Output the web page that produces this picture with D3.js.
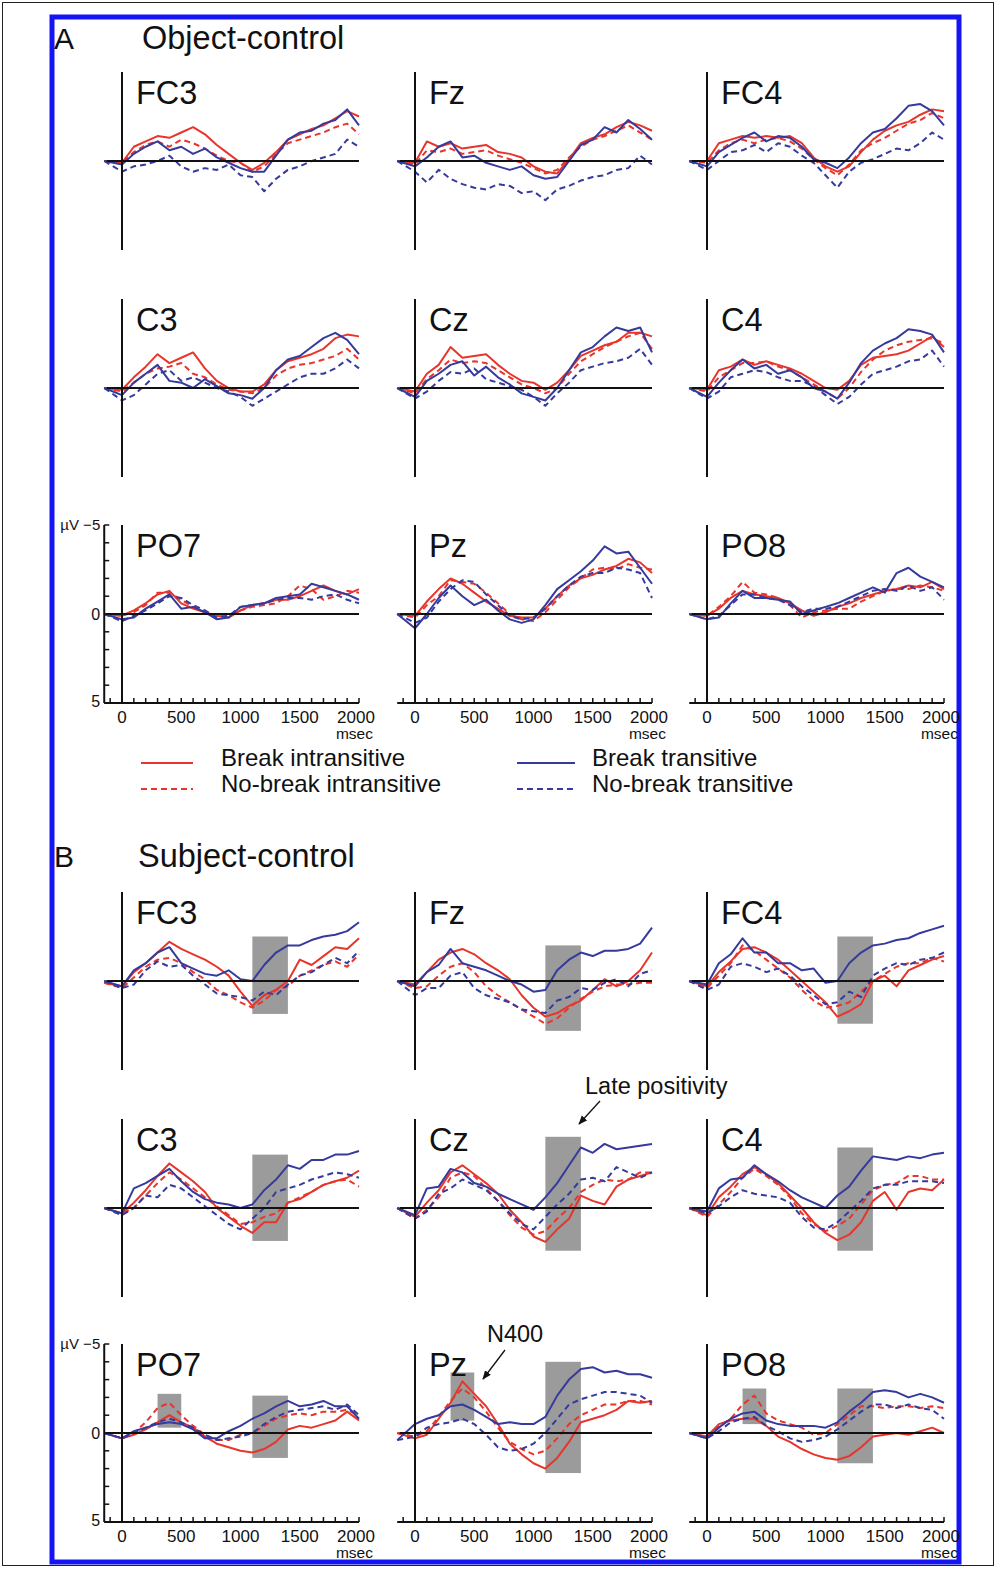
<!DOCTYPE html>
<html>
<head>
<meta charset="utf-8">
<script src="https://cdn.jsdelivr.net/npm/d3@7"></script>
<style>
  body { margin: 0; background: #fff; }
  text { font-family: "Liberation Sans", Arial, sans-serif; fill: #111; }
</style>
</head>
<body>
<script>
var width = 997,
    height = 1569;

// sample times (msec) for every trace
var times = [-150, 0, 100, 200, 300, 400, 500, 600, 700, 800, 900, 1000,
             1100, 1200, 1300, 1400, 1500, 1600, 1700, 1800, 1900, 2000];
var xTicks = [0, 500, 1000, 1500, 2000];
var conditions = ["Break intransitive", "No-break intransitive", "Break transitive", "No-break transitive"];
var channels = [["FC3", "Fz", "FC4"], ["C3", "Cz", "C4"], ["PO7", "Pz", "PO8"]];

// µV, negative plotted up; order = conditions
var objFC3 = [
  [0, 0.1, -0.8, -1.1, -1.4, -1.3, -1.6, -1.9, -1.5, -0.9, -0.4, 0.1, 0.5, 0.1, -0.5, -1.2, -1.5, -1.8, -2.0, -2.4, -2.8, -2.5],
  [0, 0.1, -0.5, -0.9, -1.1, -0.8, -1.2, -1.0, -0.7, -0.3, 0.0, 0.1, 0.6, 0.3, -0.4, -1.0, -1.2, -1.4, -1.6, -1.9, -2.1, -1.5],
  [0, 0.2, -0.4, -0.8, -1.1, -0.6, -0.8, -0.4, -0.7, -0.2, 0.1, 0.4, 0.6, 0.6, -0.3, -1.2, -1.6, -1.7, -2.1, -2.3, -2.9, -2.0],
  [0, 0.6, 0.3, 0.2, 0.0, -0.3, 0.3, 0.6, 0.4, 0.5, 0.2, 0.8, 0.9, 1.7, 1.0, 0.5, 0.3, 0.0, -0.2, -0.4, -1.2, -0.8]
];
var objFz = [
  [0, 0.1, -1.1, -0.8, -1.0, -0.7, -0.8, -0.9, -0.5, -0.4, -0.2, 0.3, 0.6, 0.7, -0.1, -1.0, -1.3, -1.5, -1.9, -2.2, -2.0, -1.7],
  [0, 0.2, -0.6, -0.5, -0.7, -0.4, -0.5, -0.6, -0.3, -0.1, 0.1, 0.4, 0.7, 0.5, -0.2, -0.8, -1.2, -1.4, -1.7, -2.0, -1.6, -1.2],
  [0, 0.3, -0.2, -0.8, -1.1, -0.2, -0.3, 0.1, 0.3, 0.5, 0.3, 0.8, 1.0, 0.9, 0.0, -0.9, -1.2, -1.9, -1.6, -2.3, -1.8, -1.2],
  [0, 0.6, 1.2, 0.5, 1.0, 1.3, 1.5, 1.6, 1.3, 1.4, 1.8, 1.7, 2.2, 1.6, 1.4, 1.1, 0.9, 0.8, 0.5, 0.4, -0.3, 0.2]
];
var objFC4 = [
  [0, 0.0, -1.0, -1.2, -1.4, -1.3, -1.4, -1.3, -1.4, -1.0, -0.2, 0.3, 0.6, 0.3, -0.5, -1.2, -1.7, -2.0, -2.2, -2.6, -2.9, -2.8],
  [0, 0.1, -0.6, -1.0, -1.2, -1.0, -1.2, -1.3, -1.1, -0.7, -0.1, 0.4, 0.8, 0.2, -0.6, -1.0, -1.3, -1.7, -2.1, -2.3, -2.7, -2.4],
  [0, 0.3, -0.5, -0.9, -1.3, -1.6, -1.1, -1.4, -1.3, -0.8, -0.1, 0.1, 0.4, -0.2, -1.0, -1.6, -1.8, -2.4, -3.1, -3.2, -2.8, -2.0],
  [0, 0.5, 0.0, -0.5, -0.6, -0.9, -0.5, -1.0, -0.8, -0.3, 0.1, 0.8, 1.5, 0.6, 0.1, -0.1, -0.4, -0.7, -0.6, -1.0, -1.6, -1.2]
];
var objC3 = [
  [0, 0.1, -0.6, -1.2, -1.9, -1.4, -1.7, -2.0, -1.1, -0.4, 0.0, 0.2, 0.2, -0.2, -1.0, -1.5, -1.7, -1.9, -2.2, -2.8, -3.0, -2.9],
  [0, 0.2, -0.3, -0.8, -1.1, -1.2, -1.4, -0.8, -0.6, -0.2, 0.1, 0.2, 0.3, 0.0, -0.7, -1.1, -1.3, -1.4, -1.6, -1.8, -2.2, -1.6],
  [0, 0.4, -0.3, -0.8, -1.3, -0.4, -0.3, 0.0, -0.5, -0.1, 0.3, 0.4, 0.6, 0.0, -1.0, -1.6, -1.8, -2.3, -2.8, -3.1, -2.7, -1.9],
  [0, 0.7, 0.4, -0.2, -0.8, -1.0, -0.4, -0.6, -0.3, 0.0, 0.2, 0.5, 1.0, 0.6, 0.2, -0.2, -0.6, -0.8, -0.8, -1.1, -1.6, -1.1]
];
var objCz = [
  [0, 0.2, -0.8, -1.3, -2.3, -1.7, -1.8, -1.9, -1.3, -0.8, -0.4, -0.3, 0.1, -0.3, -1.0, -1.8, -2.1, -2.4, -2.6, -3.1, -3.1, -2.9],
  [0, 0.3, -0.5, -1.0, -1.6, -1.4, -1.5, -1.4, -1.0, -0.6, -0.2, 0.0, 0.3, 0.0, -0.8, -1.5, -1.9, -2.3, -2.6, -2.9, -3.1, -2.2],
  [0, 0.5, -0.4, -0.8, -1.3, -1.5, -0.7, -1.2, -0.6, -0.2, 0.3, 0.5, 0.7, 0.0, -1.0, -2.0, -2.3, -2.9, -3.4, -3.2, -3.4, -2.0],
  [0, 0.6, 0.2, -0.4, -0.9, -0.8, -1.1, -0.5, -0.3, -0.1, 0.1, 0.5, 1.0, 0.3, -0.3, -1.0, -1.2, -1.4, -1.5, -1.7, -2.2, -1.3]
];
var objC4 = [
  [0, 0.1, -1.0, -1.2, -1.6, -1.3, -1.5, -1.3, -1.1, -0.8, -0.4, 0.0, 0.1, -0.4, -1.3, -1.7, -1.8, -1.9, -2.1, -2.5, -2.9, -2.3],
  [0, 0.2, -0.6, -1.0, -1.4, -1.4, -1.5, -1.2, -1.0, -0.6, -0.2, 0.2, 0.6, 0.0, -0.9, -1.6, -2.1, -2.4, -2.6, -2.7, -2.8, -2.5],
  [0, 0.5, -0.3, -1.0, -1.6, -1.1, -1.3, -0.8, -1.0, -0.6, 0.0, 0.2, 0.6, -0.3, -1.4, -2.1, -2.5, -2.8, -3.3, -3.2, -3.0, -2.0],
  [0, 0.6, 0.2, -0.6, -0.8, -1.0, -0.9, -0.6, -0.4, -0.4, -0.1, 0.4, 0.9, 0.5, -0.2, -0.8, -1.0, -1.2, -1.5, -1.6, -2.1, -1.2]
];
var objPO7 = [
  [0, 0.1, -0.2, -0.6, -1.1, -1.3, -0.6, -0.3, -0.1, 0.1, 0.2, -0.2, -0.5, -0.6, -0.8, -0.8, -1.0, -1.3, -1.6, -1.3, -1.1, -1.4],
  [0, 0.1, -0.1, -0.5, -1.2, -1.2, -0.8, -0.4, -0.1, 0.1, 0.1, -0.2, -0.4, -0.5, -0.6, -1.0, -1.6, -1.4, -0.8, -1.0, -1.3, -1.2],
  [0, 0.3, 0.2, -0.3, -0.7, -1.1, -0.3, -0.4, -0.1, 0.3, 0.2, -0.4, -0.5, -0.6, -0.9, -1.0, -1.1, -1.7, -1.5, -1.3, -1.1, -0.8],
  [0, 0.4, 0.1, -0.2, -0.6, -1.0, -0.9, -0.5, -0.2, 0.2, 0.1, -0.4, -0.5, -0.6, -0.8, -0.9, -0.9, -0.8, -1.0, -1.1, -0.8, -0.6]
];
var objPz = [
  [0, 0.1, -0.7, -1.4, -2.0, -1.7, -1.2, -0.7, -0.3, 0.1, 0.2, 0.2, -0.3, -1.0, -1.6, -2.0, -2.2, -2.5, -2.7, -3.1, -2.9, -2.3],
  [0, 0.2, -0.5, -1.0, -1.9, -1.8, -1.7, -1.2, -0.6, 0.0, 0.3, 0.4, -0.1, -0.8, -1.5, -2.0, -2.5, -2.6, -2.5, -2.8, -2.6, -2.5],
  [0, 0.8, 0.0, -0.9, -1.6, -1.0, -0.5, -0.8, -0.2, 0.3, 0.5, 0.3, -0.5, -1.4, -1.9, -2.4, -3.0, -3.8, -3.4, -3.5, -2.6, -1.7],
  [0, 0.5, 0.2, -0.7, -1.4, -1.9, -1.8, -1.1, -0.5, 0.1, 0.3, 0.2, -0.3, -1.0, -1.6, -2.1, -2.3, -2.3, -2.6, -2.5, -2.3, -0.9]
];
var objPO8 = [
  [0, 0.1, -0.3, -0.9, -1.3, -1.1, -1.0, -0.9, -0.6, -0.2, 0.1, -0.1, -0.4, -0.6, -0.9, -1.1, -1.3, -1.4, -1.6, -1.5, -1.8, -1.4],
  [0, 0.1, -0.4, -1.0, -1.8, -1.2, -1.1, -0.9, -0.5, 0.2, -0.1, -0.2, -0.3, -0.3, -0.7, -1.0, -1.3, -1.4, -1.4, -1.6, -1.5, -1.3],
  [0, 0.3, 0.2, -0.6, -1.3, -0.9, -0.9, -0.8, -0.7, 0.0, -0.2, -0.4, -0.6, -0.9, -1.2, -1.5, -1.2, -2.3, -2.6, -2.1, -1.8, -1.5],
  [0, 0.3, 0.1, -0.5, -1.1, -1.1, -0.9, -0.8, -0.5, -0.1, -0.3, -0.3, -0.4, -0.7, -1.0, -1.3, -1.4, -1.3, -1.6, -1.3, -1.5, -0.8]
];

var subjFC3 = [
  [0.1, 0.3, -0.5, -1.0, -1.6, -2.2, -1.8, -1.5, -1.2, -0.8, -0.3, 0.6, 1.4, 0.8, 0.5, 0.0, -1.2, -0.9, -1.4, -1.9, -1.8, -2.4],
  [0.1, 0.4, -0.2, -0.8, -1.2, -1.3, -1.0, -0.5, -0.1, 0.5, 0.8, 1.2, 1.5, 1.1, 0.5, 0.3, -0.3, -0.6, -0.9, -1.1, -0.8, -1.5],
  [0, 0.3, -0.6, -1.0, -1.6, -1.9, -1.0, -0.7, -0.4, -0.3, -0.6, -0.1, 0.0, -0.9, -1.6, -2.0, -2.0, -2.3, -2.5, -2.6, -2.8, -3.3],
  [0, 0.4, 0.2, -0.6, -1.1, -0.8, -0.9, -0.3, 0.2, 0.7, 0.8, 0.9, 1.1, 0.6, 0.8, 0.2, -0.3, -0.5, -0.9, -1.3, -1.0, -1.7]
];
var subjFz = [
  [0, 0.2, -0.5, -1.2, -1.6, -1.8, -1.5, -1.0, -0.6, -0.1, 0.8, 1.5, 2.0, 1.8, 1.4, 1.1, 0.5, -0.1, 0.3, 0.0, -0.6, -1.6],
  [0, 0.4, 0.3, -0.3, -0.8, -1.0, -0.5, 0.3, 0.8, 1.2, 1.6, 2.0, 2.4, 2.1, 1.5, 1.0, 0.6, 0.3, 0.2, 0.2, 0.1, 0.1],
  [0, 0.3, -0.5, -0.9, -1.8, -1.0, -0.8, -0.6, -0.3, 0.0, 0.2, 0.6, 0.5, -0.6, -1.2, -1.6, -1.4, -1.7, -1.7, -1.8, -2.1, -3.0],
  [0, 0.8, 0.4, 0.4, -0.3, -0.5, 0.4, 0.8, 1.0, 1.2, 1.6, 1.7, 1.8, 1.1, 0.9, 0.4, 0.5, 0.1, -0.1, 0.3, -0.4, -0.6]
];
var subjFC4 = [
  [0, 0.3, -0.5, -1.1, -1.8, -1.9, -1.6, -1.2, -0.6, 0.0, 0.6, 1.2, 2.0, 1.7, 1.3, 0.0, -0.3, 0.3, -0.6, -0.9, -1.2, -1.4],
  [0, 0.4, -0.3, -1.0, -2.0, -1.7, -1.2, -0.7, -0.2, 0.5, 1.1, 1.5, 1.4, 1.2, 0.6, 0.0, -0.4, -0.8, -1.0, -1.0, -1.3, -1.1],
  [0, 0.2, -1.0, -1.5, -2.4, -1.6, -1.6, -1.0, -1.0, -0.6, -0.7, 0.1, 0.0, -1.0, -1.6, -2.0, -2.1, -2.3, -2.4, -2.7, -2.9, -3.1],
  [0, 0.5, 0.2, -0.8, -1.0, -0.8, -0.5, -0.7, -0.3, 0.3, 0.8, 1.3, 1.2, 0.6, 0.9, -0.3, -0.7, -1.0, -0.9, -1.2, -1.3, -1.6]
];
var subjC3 = [
  [0, 0.3, -0.3, -1.0, -1.8, -2.5, -2.0, -1.5, -0.9, 0.0, 0.5, 1.0, 1.4, 0.8, 0.8, -0.3, -0.5, -0.9, -1.3, -1.5, -1.7, -2.1],
  [0, 0.3, 0.0, -0.7, -1.4, -2.0, -1.6, -1.1, -0.6, -0.1, 0.4, 0.9, 0.8, 0.5, 0.3, -0.3, -0.6, -0.9, -1.3, -1.5, -1.6, -1.2],
  [0, 0.3, -1.1, -1.4, -1.8, -2.2, -1.5, -0.9, -0.5, -0.3, -0.2, 0.0, -0.2, -1.0, -1.6, -2.4, -2.2, -2.7, -2.7, -3.0, -3.0, -3.2],
  [0, 0.4, 0.0, -0.7, -0.6, -1.3, -1.1, -0.6, -0.1, 0.4, 0.9, 1.2, 0.6, 0.0, -0.9, -1.1, -1.3, -1.6, -1.8, -2.0, -1.9, -1.7]
];
var subjCz = [
  [0, 0.5, -0.3, -1.0, -2.0, -2.4, -1.9, -1.4, -0.8, 0.1, 0.8, 1.6, 1.9, 1.2, 0.6, -0.7, -0.4, -0.2, -1.2, -1.6, -1.8, -2.0],
  [0, 0.6, 0.1, -0.6, -1.7, -2.0, -1.8, -1.1, -0.4, 0.4, 1.1, 1.5, 1.3, 0.6, 0.0, -0.9, -1.3, -1.6, -1.5, -1.6, -2.0, -2.0],
  [0, 0.4, -1.1, -1.2, -2.2, -2.0, -1.4, -1.2, -0.8, -0.5, -0.2, 0.1, -0.6, -1.4, -2.4, -3.4, -3.1, -3.6, -3.3, -3.4, -3.5, -3.6],
  [0, 0.6, 0.2, -0.8, -1.1, -1.6, -1.3, -1.0, -0.4, 0.3, 0.9, 1.2, 0.5, -0.2, -0.8, -1.6, -1.7, -1.5, -2.3, -2.0, -1.7, -2.0]
];
var subjC4 = [
  [0, 0.4, -0.6, -1.2, -1.9, -2.3, -1.9, -1.4, -0.7, 0.0, 0.8, 1.4, 1.8, 1.5, 0.8, -0.4, -0.9, 0.1, -0.9, -1.1, -1.0, -1.6],
  [0, 0.5, -0.2, -0.9, -1.7, -2.2, -1.8, -1.3, -0.6, 0.3, 0.9, 1.3, 1.0, 0.6, -0.2, -1.0, -1.3, -1.4, -1.8, -1.8, -1.6, -1.6],
  [0, 0.2, -1.1, -1.6, -1.7, -2.4, -1.9, -1.5, -1.0, -0.6, -0.3, 0.0, -0.7, -1.2, -2.1, -2.9, -2.8, -2.7, -2.9, -2.8, -3.0, -3.1],
  [0, 0.3, -0.1, -0.6, -1.0, -0.8, -0.7, -0.6, -0.3, 0.5, 1.1, 1.2, 0.8, 0.2, -0.4, -1.1, -1.3, -1.3, -1.5, -1.5, -1.5, -1.4]
];
var subjPO7 = [
  [0, 0.3, 0.1, -0.2, -0.6, -1.0, -0.6, -0.3, 0.2, 0.6, 0.8, 1.0, 1.1, 0.9, 0.5, -0.2, -0.4, -0.3, -0.5, -0.7, -1.2, -0.7],
  [0, 0.3, 0.0, -0.6, -1.4, -1.7, -1.0, -0.4, 0.1, 0.4, 0.4, 0.1, 0.0, -0.4, -0.8, -1.0, -1.1, -1.0, -1.2, -1.2, -1.3, -1.0],
  [0, 0.3, -0.1, -0.3, -0.5, -0.6, -0.5, -0.2, 0.3, 0.3, -0.1, -0.4, -0.8, -1.1, -1.5, -1.8, -1.5, -1.6, -1.8, -1.5, -1.5, -0.8],
  [0, 0.3, 0.0, -0.3, -0.6, -0.8, -0.6, -0.3, 0.1, 0.4, 0.3, 0.2, 0.0, -0.5, -0.9, -1.2, -1.3, -1.4, -1.5, -1.3, -1.6, -1.0]
];
var subjPz = [
  [0, 0.3, 0.1, -0.8, -1.7, -2.9, -2.2, -1.5, -0.5, 0.6, 1.2, 1.7, 2.0, 1.4, 0.5, -0.6, -0.8, -1.0, -1.3, -1.8, -1.7, -1.8],
  [0, 0.2, -0.1, -0.9, -1.8, -2.5, -2.0, -1.2, -0.3, 0.5, 0.9, 1.2, 1.0, 0.3, -0.5, -1.0, -1.3, -1.6, -1.6, -1.8, -1.8, -1.6],
  [0.4, -0.5, -0.8, -1.0, -1.5, -1.6, -1.3, -0.9, -0.5, -0.6, -0.5, -0.5, -0.9, -2.1, -3.0, -3.6, -3.7, -3.4, -3.5, -3.3, -3.3, -3.1],
  [0.4, 0.2, -0.3, -0.5, -0.6, -0.8, -0.5, 0.1, 0.8, 1.0, 0.9, 0.6, 0.0, -0.8, -1.6, -1.9, -2.1, -2.3, -2.3, -2.2, -2.1, -1.7]
];
var subjPO8 = [
  [0, 0.2, -0.5, -0.7, -0.8, -0.8, -0.4, 0.2, 0.5, 0.9, 1.2, 1.4, 1.5, 1.3, 0.8, 0.2, 0.1, 0.0, 0.1, -0.1, -0.3, 0.0],
  [0, 0.3, -0.4, -0.8, -1.6, -2.1, -1.1, -0.7, -0.5, -0.3, 0.1, 0.0, -0.5, -1.0, -1.5, -1.5, -1.4, -1.5, -1.5, -1.4, -1.5, -1.4],
  [0, 0.3, -0.3, -0.8, -1.1, -1.2, -0.7, -0.5, -0.4, -0.4, -0.4, -0.3, -0.6, -1.2, -1.7, -2.3, -2.4, -2.3, -2.0, -2.2, -2.0, -1.7],
  [0, 0.3, -0.1, -0.6, -0.8, -0.9, -0.4, -0.1, 0.3, 0.5, 0.4, 0.2, -0.2, -0.7, -1.2, -1.6, -1.6, -1.4, -1.6, -1.4, -1.3, -0.8]
];

// grey analysis windows in panel B: [start, end] msec and [top, bottom] µV per channel
var lateWindow = [1100, 1400];
var n400Window = [300, 500];
var lateBoxes = [[-2.5, 1.85], [-2.0, 2.8], [-2.5, 2.4], [-3.0, 1.85], [-4.0, 2.4], [-3.4, 2.4], [-2.1, 1.4], [-4.0, 2.25], [-2.5, 1.7]];
var n400Boxes = [null, null, null, null, null, null, [-2.2, -0.3], [-3.4, -0.7], [-2.5, -0.5]];

var objPanels = [objFC3, objFz, objFC4, objC3, objCz, objC4, objPO7, objPz, objPO8];
var subjPanels = [subjFC3, subjFz, subjFC4, subjC3, subjCz, subjC4, subjPO7, subjPz, subjPO8];

var colZero = [122, 415, 707];
var red = "#e8352b", blue = "#353a9c";
var styles = [
  {color: red, dash: null},
  {color: red, dash: "6,4"},
  {color: blue, dash: null},
  {color: blue, dash: "6,4"}
];

var svg = d3.select("body").append("svg")
    .attr("width", width)
    .attr("height", height);

// frames
svg.append("rect").attr("x", 2.5).attr("y", 2.5).attr("width", 991).attr("height", 1563)
    .attr("fill", "none").attr("stroke", "#222").attr("stroke-width", 1);
svg.append("rect").attr("x", 52).attr("y", 17).attr("width", 907).attr("height", 1545)
    .attr("fill", "none").attr("stroke", "#1414f5").attr("stroke-width", 5);

var x = d3.scaleLinear().domain([0, 2000]).range([0, 237]);
var y = d3.scaleLinear().domain([-5, 5]).range([-89, 89]);

var line = d3.line()
    .x(function(d) { return x(d[0]); })
    .y(function(d) { return y(d[1]); });

var sections = [
  {label: "A", title: "Object-control", titleY: 49, rows: [161, 388, 614], data: objPanels, boxes: false},
  {label: "B", title: "Subject-control", titleY: 867, rows: [981, 1208, 1433], data: subjPanels, boxes: true}
];

sections.forEach(function(sec) {
  svg.append("text").attr("x", 54).attr("y", sec.titleY)
      .style("font-size", "30px").text(sec.label);
  svg.append("text").attr("x", sec.label == "A" ? 142 : 138).attr("y", sec.titleY)
      .style("font-size", "32.5px").text(sec.title);

  channels.forEach(function(row, r) {
    row.forEach(function(ch, c) {
      var k = r * 3 + c;
      var g = svg.append("g").attr("transform", "translate(" + colZero[c] + "," + sec.rows[r] + ")");

      // grey windows
      if (sec.boxes) {
        var lb = lateBoxes[k];
        g.append("rect")
            .attr("x", x(lateWindow[0])).attr("width", x(lateWindow[1]) - x(lateWindow[0]))
            .attr("y", y(lb[0])).attr("height", y(lb[1]) - y(lb[0]))
            .attr("fill", "#9b9b9b");
        var nb = n400Boxes[k];
        if (nb) {
          g.append("rect")
              .attr("x", x(n400Window[0])).attr("width", x(n400Window[1]) - x(n400Window[0]))
              .attr("y", y(nb[0])).attr("height", y(nb[1]) - y(nb[0]))
              .attr("fill", "#9b9b9b");
        }
      }

      // traces
      sec.data[k].forEach(function(vals, i) {
        var pts = times.map(function(t, j) { return [t, vals[j]]; });
        g.append("path").datum(pts)
            .attr("d", line)
            .attr("fill", "none")
            .attr("stroke", styles[i].color)
            .attr("stroke-width", 2)
            .attr("stroke-dasharray", styles[i].dash)
            .attr("stroke-linejoin", "round");
      });

      // zero line and onset line
      g.append("line").attr("x1", x(-130)).attr("x2", x(2000)).attr("y1", y(0)).attr("y2", y(0))
          .attr("stroke", "#111").attr("stroke-width", 2);
      g.append("line").attr("x1", x(0)).attr("x2", x(0)).attr("y1", y(-5)).attr("y2", y(5))
          .attr("stroke", "#111").attr("stroke-width", 2);

      g.append("text").attr("x", 14).attr("y", y(-3.2))
          .style("font-size", "32.5px").text(ch);

      if (r == 2) {
        // time axis
        var xa = g.append("g").attr("transform", "translate(0," + y(5) + ")");
        xa.append("line").attr("x1", x(-150)).attr("x2", x(2000)).attr("y1", 0).attr("y2", 0)
            .attr("stroke", "#111").attr("stroke-width", 2);
        xa.selectAll(".tk").data(d3.range(-100, 2001, 100)).enter().append("line")
            .attr("x1", function(d) { return x(d); }).attr("x2", function(d) { return x(d); })
            .attr("y1", 0).attr("y2", -5).attr("stroke", "#111").attr("stroke-width", 1.5);
        xa.selectAll(".lb").data(xTicks).enter().append("text")
            .attr("x", function(d) { return x(d) - (d == 2000 ? 3 : 0); }).attr("y", 20)
            .attr("text-anchor", "middle").style("font-size", "17px")
            .text(function(d) { return d; });
        xa.append("text").attr("x", x(2000) + 14).attr("y", 36).attr("text-anchor", "end")
            .style("font-size", "15.5px").text("msec");

        if (c == 0) {
          var ya = g.append("g").attr("transform", "translate(" + x(-150) + ",0)");
          ya.append("line").attr("x1", 0).attr("x2", 0).attr("y1", y(-5)).attr("y2", y(5))
              .attr("stroke", "#111").attr("stroke-width", 2);
          ya.selectAll(".tk").data(d3.range(-5, 6, 1)).enter().append("line")
              .attr("x1", 0).attr("x2", 5)
              .attr("y1", function(d) { return y(d); }).attr("y2", function(d) { return y(d); })
              .attr("stroke", "#111").attr("stroke-width", 1.5);
          ya.append("text").attr("x", -4).attr("y", y(-5) + 5).attr("text-anchor", "end")
              .style("font-size", "15px").text("\u00b5V \u22125");
          ya.append("text").attr("x", -4).attr("y", y(0) + 6).attr("text-anchor", "end")
              .style("font-size", "16px").text("0");
          ya.append("text").attr("x", -4).attr("y", y(5) + 4).attr("text-anchor", "end")
              .style("font-size", "16px").text("5");
        }
      }
    });
  });
});

// legend
var legendPos = [[141, 763], [141, 789], [517, 763], [517, 789]];
var legend = svg.append("g");
conditions.forEach(function(name, i) {
  var p = legendPos[i];
  legend.append("line").attr("x1", p[0]).attr("x2", p[0] + (i < 2 ? 52 : 58))
      .attr("y1", p[1]).attr("y2", p[1])
      .attr("stroke", styles[i].color).attr("stroke-width", 2)
      .attr("stroke-dasharray", styles[i].dash);
  legend.append("text").attr("x", i < 2 ? 221 : 592).attr("y", p[1] + 3)
      .style("font-size", "24px").text(name);
});

// annotations
svg.append("defs").append("marker")
    .attr("id", "arrow").attr("viewBox", "0 0 10 10").attr("refX", 9).attr("refY", 5)
    .attr("markerWidth", 7).attr("markerHeight", 7).attr("orient", "auto")
  .append("path").attr("d", "M0,1L10,5L0,9z").attr("fill", "#111");

svg.append("text").attr("x", 585).attr("y", 1094).style("font-size", "23.5px").text("Late positivity");
svg.append("line").attr("x1", 600).attr("y1", 1101).attr("x2", 579).attr("y2", 1124)
    .attr("stroke", "#111").attr("stroke-width", 1.3).attr("marker-end", "url(#arrow)");

svg.append("text").attr("x", 487).attr("y", 1342).style("font-size", "23.5px").text("N400");
svg.append("line").attr("x1", 505).attr("y1", 1350).attr("x2", 483).attr("y2", 1379)
    .attr("stroke", "#111").attr("stroke-width", 1.3).attr("marker-end", "url(#arrow)");
</script>
</body>
</html>
